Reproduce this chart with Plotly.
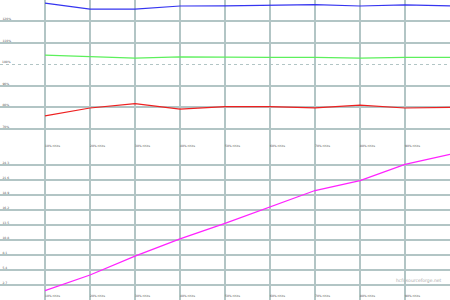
import plotly.graph_objects as go

# Data
x_pct = [10, 20, 30, 40, 50, 60, 70, 80, 90, 100]
x_tick_vals = [10, 20, 30, 40, 50, 60, 70, 80, 90]
x_tick_text = ["10% nhits", "20% nhits", "30% nhits", "40% nhits", "50% nhits",
               "60% nhits", "70% nhits", "80% nhits", "90% nhits"]

blue_pct = [128.5, 125.7, 125.7, 127.2, 127.3, 127.7, 127.8, 127.2, 127.7, 127.3]
green_pct = [104.3, 103.5, 102.9, 103.5, 103.2, 103.2, 103.2, 102.9, 103.2, 103.2]
red_pct = [75.9, 79.6, 81.6, 79.1, 80.2, 80.2, 79.7, 80.9, 79.6, 79.9]
magenta_val = [1.7, 4.5, 7.9, 11.0, 13.8, 16.8, 19.7, 21.5, 24.4, 26.2]

top_tick_vals = [70, 80, 90, 110, 120]
top_tick_text = ["70%", "80%", "90%", "110%", "120%"]
top_ref_vals = [100]
top_ref_text = ["100%"]
bottom_tick_vals = [2.7, 5.4, 8.1, 10.8, 13.5, 16.2, 18.9, 21.6, 24.3]
bottom_tick_text = ["2.7", "5.4", "8.1", "10.8", "13.5", "16.2", "18.9", "21.6", "24.3"]

grid_col = "#b2c5c5"
label_font = dict(family="DejaVu Sans", size=3, color="#555555")

fig = go.Figure()
fig.add_trace(go.Scatter(x=x_pct, y=blue_pct, mode="lines",
                         line=dict(color="#3535f0", width=1.2), xaxis="x", yaxis="y"))
fig.add_trace(go.Scatter(x=x_pct, y=green_pct, mode="lines",
                         line=dict(color="#5cf05c", width=1.2), xaxis="x", yaxis="y"))
fig.add_trace(go.Scatter(x=x_pct, y=red_pct, mode="lines",
                         line=dict(color="#ee2020", width=1.2), xaxis="x", yaxis="y"))
fig.add_trace(go.Scatter(x=x_pct, y=magenta_val, mode="lines",
                         line=dict(color="#ff22ff", width=1.2), xaxis="x2", yaxis="y2"))
fig.add_trace(go.Scatter(x=[None], y=[None], xaxis="x", yaxis="y3", showlegend=False,
                         hoverinfo="skip"))

xcommon = dict(range=[0, 100], tickmode="array", tickvals=x_tick_vals, ticktext=x_tick_text,
               showgrid=True, gridcolor=grid_col, gridwidth=1.5, zeroline=False,
               ticks="", ticklabelposition="inside right", ticklabelstandoff=-4,
               tickfont=label_font, showline=False, fixedrange=True)

fig.update_layout(
    width=450, height=300,
    margin=dict(l=0, r=0, t=0, b=0),
    paper_bgcolor="white", plot_bgcolor="white",
    showlegend=False,
    xaxis=dict(domain=[0, 1], anchor="y", **xcommon),
    xaxis2=dict(domain=[0, 1], anchor="y2", **xcommon),
    yaxis=dict(domain=[0.5, 1], anchor="x", range=[60, 130], tickmode="array",
               tickvals=top_tick_vals, ticktext=top_tick_text,
               showgrid=True, gridcolor=grid_col, gridwidth=1.5, zeroline=False,
               ticks="", ticklabelposition="inside top", ticklabelstandoff=-1,
               tickfont=label_font,
               showline=True, linecolor=grid_col, linewidth=2),
    yaxis3=dict(overlaying="y", anchor="x", range=[60, 130], tickmode="array",
                tickvals=top_ref_vals, ticktext=top_ref_text,
                showgrid=True, gridcolor=grid_col, gridwidth=1.2, griddash="dot",
                zeroline=False, ticks="", ticklabelposition="inside top",
                ticklabelstandoff=-1, tickfont=label_font, showline=False),
    yaxis2=dict(domain=[0, 0.5], anchor="x2", range=[0, 27], tickmode="array",
                tickvals=bottom_tick_vals, ticktext=bottom_tick_text,
                showgrid=True, gridcolor=grid_col, gridwidth=1.5, zeroline=False,
                ticks="", ticklabelposition="inside top", ticklabelstandoff=-1,
                tickfont=label_font,
                showline=True, linecolor=grid_col, linewidth=2),
    annotations=[dict(text="hcfr.sourceforge.net", xref="paper", yref="paper",
                      x=0.987, y=0.066, xanchor="right", yanchor="middle",
                      showarrow=False,
                      font=dict(family="DejaVu Sans", size=4.5, color="#aaaaaa"))],
)

fig.write_html("out.html")
